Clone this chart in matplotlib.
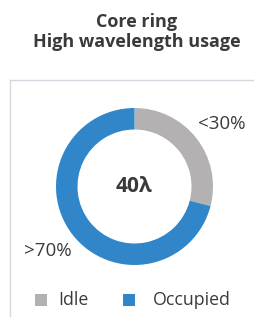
import matplotlib
matplotlib.use("Agg")
import matplotlib.pyplot as plt
from matplotlib.patches import Rectangle

categories = ["Idle", "Occupied"]
values = [29, 71]
labels_pct = ["<30%", ">70%"]
center_label = "40λ"
title_lines = ["Core ring", "High wavelength usage"]
colors = ["#b3b1b2", "#3086c8"]

W, H = 254, 317
fig = plt.figure(figsize=(W / 100, H / 100), dpi=100)
ax = fig.add_axes([0, 0, 1, 1])

font = "Open Sans"
txt = "#3a3a3a"

# panel border
ax.plot([10, W], [H - 80, H - 80], color="#d8d8e0", lw=1)
ax.plot([10, 10], [H - 80, 0], color="#d8d8e0", lw=1)

# title
ax.text(137, H - 27, title_lines[0], ha="center", va="baseline", fontsize=13,
        fontweight="bold", family=font, color=txt)
ax.text(137, H - 47, title_lines[1], ha="center", va="baseline", fontsize=13,
        fontweight="bold", family=font, color=txt)

cx, cy, R = 134.5, H - 186.5, 78.5
ax.pie(values, colors=colors, startangle=90, counterclock=False,
       center=(cx, cy), radius=R, wedgeprops=dict(width=21.5, linewidth=0),
       frame=True)
ax.set_xlim(0, W)
ax.set_ylim(0, H)
ax.set_aspect("equal")
ax.axis("off")

ax.text(cx, cy, center_label, ha="center", va="center", fontsize=15,
        fontweight="bold", family=font, color=txt)
ax.text(221.5, H - 124, labels_pct[0], ha="center", va="center", fontsize=13.5,
        family=font, color=txt)
ax.text(47.5, H - 251, labels_pct[1], ha="center", va="center", fontsize=13.5,
        family=font, color=txt)

# legend
for sx, c, lx, lab in [(35, colors[0], 58, categories[0]),
                       (123, colors[1], 153, categories[1])]:
    ax.add_patch(Rectangle((sx, H - 306), 12, 12, color=c, lw=0))
    ax.text(lx, H - 300, lab, ha="left", va="center", fontsize=12.8,
            family=font, color=txt)

fig.savefig("out.png", dpi=100)
